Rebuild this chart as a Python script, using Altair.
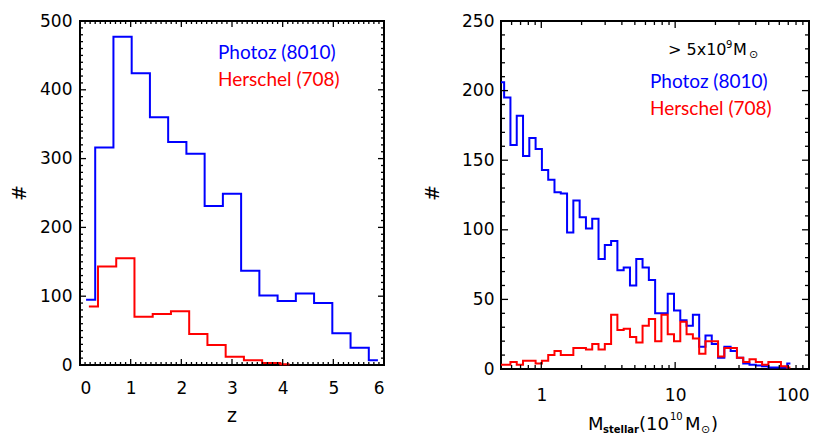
import altair as alt
import pandas as pd

# ---------------- data ----------------
# Left panel: redshift histograms (bin centres, counts)
z_blue = [0.12, 0.48, 0.84, 1.20, 1.56, 1.92, 2.28, 2.64, 3.00, 3.36, 3.72, 4.08,
          4.44, 4.80, 5.16, 5.52, 5.88]
n_blue_z = [95, 316, 477, 424, 360, 324, 307, 231, 249, 137, 101, 93, 104, 90, 46, 25, 7]

z_red = [0.175, 0.535, 0.895, 1.255, 1.615, 1.975, 2.335, 2.695, 3.055, 3.415, 3.775, 4.135]
n_red_z = [85, 143, 155, 70, 74, 78, 45, 29, 12, 7, 3, 1]

# Right panel: stellar-mass histograms (bin centres in 1e10 Msun, counts)
mass_centres = [0.500, 0.557, 0.621, 0.692, 0.771, 0.859, 0.957, 1.067, 1.189, 1.324,
                1.476, 1.644, 1.832, 2.042, 2.275, 2.535, 2.825, 3.148, 3.508, 3.908,
                4.355, 4.853, 5.408, 6.026, 6.714, 7.482, 8.337, 9.290, 10.35, 11.53,
                12.85, 14.32, 15.96, 17.78, 19.82, 22.08, 24.60, 27.42, 30.55, 34.04,
                37.93, 42.27, 47.10, 52.48, 58.48, 65.16, 72.61]
n_blue_m = [206, 195, 161, 182, 153, 166, 158, 143, 136, 127, 126, 98, 121, 109, 101, 108,
            79, 89, 92, 71, 73, 60, 79, 73, 64, 40, 40, 54, 42, 35, 31, 39, 16, 24, 18,
            8, 16, 13, 8, 4, 3, 2.5, 2, 1, 1, 1, 4]
n_red_m = [3, 3, 5, 3, 6, 6, 4, 6, 10, 13, 10, 10, 15, 15, 14, 18, 14, 18, 39, 28, 29, 23,
           19, 31, 36, 20, 39, 25, 20, 34, 25, 22, 11, 20, 20, 9, 15, 15, 8, 5, 7, 5, 3,
           5, 5, 2, 1]

# tick values
left_x_major = [0, 1, 2, 3, 4, 5, 6]
left_y_major = [0, 100, 200, 300, 400, 500]
right_x_major = [1, 10, 100]
right_y_major = [0, 50, 100, 150, 200, 250]

# texts
legend_labels = ["Photoz (8010)", "Herschel (708)"]
left_xtitle = "z"
ytitle = "#"
cut_text = ["> 5x10", "9", "M", "\u2299"]
mass_title = ["M", "stellar", "(10", "10", "M", "\u2299", ")"]

BLUE = "#0000ff"
RED = "#ff0000"
AXF = "DejaVu Sans"
LEGF = "Lato"

left_x_minor = [round(i * 0.1, 2) for i in range(0, 61) if i % 10 != 0]
left_y_minor = [i * 10 for i in range(0, 51) if i % 10 != 0]
right_x_minor = [0.6, 0.7, 0.8, 0.9] + list(range(2, 10)) + list(range(20, 100, 10))
right_y_minor = [i * 10 for i in range(0, 26) if i % 5 != 0]


def text_piece(s, x, y, size, color="black", font=AXF, weight="normal", align="left", angle=0):
    return alt.Chart(pd.DataFrame({"t": [s]})).mark_text(
        align=align, baseline="middle", font=font, fontSize=size, color=color,
        fontWeight=weight, angle=angle
    ).encode(x=alt.value(x), y=alt.value(y), text="t:N")


def tick_layers(xenc, yenc, xmaj, xmin, ymaj, ymin, W, H, Lmaj, Lmin):
    layers = []
    for vals, L in ((xmaj, Lmaj), (xmin, Lmin)):
        df = pd.DataFrame({"x": vals})
        layers.append(alt.Chart(df).mark_rule(color="black", strokeWidth=1.3).encode(
            x=xenc, y=alt.value(H), y2=alt.value(H - L)))
        layers.append(alt.Chart(df).mark_rule(color="black", strokeWidth=1.3).encode(
            x=xenc, y=alt.value(0), y2=alt.value(L)))
    for vals, L in ((ymaj, Lmaj), (ymin, Lmin)):
        df = pd.DataFrame({"y": vals})
        layers.append(alt.Chart(df).mark_rule(color="black", strokeWidth=1.3).encode(
            y=yenc, x=alt.value(0), x2=alt.value(L)))
        layers.append(alt.Chart(df).mark_rule(color="black", strokeWidth=1.3).encode(
            y=yenc, x=alt.value(W), x2=alt.value(W - L)))
    return layers


AX = dict(ticks=False, domain=False, grid=False, labelFont=AXF, labelFontSize=17,
          labelColor="black", title="", format="d")

# ---------------- left panel ----------------
W1, H1 = 304, 344
xl = alt.X("x:Q", scale=alt.Scale(domain=[0, 6], nice=False, zero=False),
           axis=alt.Axis(values=left_x_major, labelPadding=15, **AX))
yl = alt.Y("y:Q", scale=alt.Scale(domain=[0, 500], nice=False, zero=False),
           axis=alt.Axis(values=left_y_major, labelPadding=8, **AX))

df_bz = pd.DataFrame({"x": z_blue, "y": n_blue_z})
df_rz = pd.DataFrame({"x": z_red, "y": n_red_z})

left_layers = [
    alt.Chart(df_bz).mark_line(interpolate="step", color=BLUE, strokeWidth=2).encode(x=xl, y=yl),
    alt.Chart(df_rz).mark_line(interpolate="step", color=RED, strokeWidth=2).encode(x=xl, y=yl),
]
left_layers += tick_layers(xl, yl, left_x_major, left_x_minor, left_y_major, left_y_minor,
                           W1, H1, 6, 3)
left_layers += [
    text_piece(legend_labels[0], 138, 32, 19, BLUE, LEGF),
    text_piece(legend_labels[1], 138, 59, 19, RED, LEGF),
    text_piece(left_xtitle, W1 / 2, H1 + 51, 19, align="center"),
    text_piece(ytitle, -60, 172, 19, align="center", angle=270),
]
left = alt.layer(*left_layers).properties(width=W1, height=H1)

# ---------------- right panel ----------------
W2, H2 = 308, 348
xr = alt.X("x:Q", scale=alt.Scale(type="log", domain=[0.5, 100], nice=False),
           axis=alt.Axis(values=right_x_major, labelPadding=18, **AX))
yr = alt.Y("y:Q", scale=alt.Scale(domain=[0, 250], nice=False, zero=False),
           axis=alt.Axis(values=right_y_major, labelPadding=7, **AX))

df_bm = pd.DataFrame({"x": mass_centres, "y": n_blue_m})
df_rm = pd.DataFrame({"x": mass_centres, "y": n_red_m})

right_layers = [
    alt.Chart(df_bm).mark_line(interpolate="step", color=BLUE, strokeWidth=2).encode(x=xr, y=yr),
    alt.Chart(df_rm).mark_line(interpolate="step", color=RED, strokeWidth=2).encode(x=xr, y=yr),
]
right_layers += tick_layers(xr, yr, right_x_major, right_x_minor, right_y_major, right_y_minor,
                            W2, H2, 7, 4)
right_layers += [
    text_piece(cut_text[0], 167, 29, 16),
    text_piece(cut_text[1], 225, 24, 10),
    text_piece(cut_text[2], 232, 29, 16),
    text_piece(cut_text[3], 248, 34, 11),
    text_piece(legend_labels[0], 149, 61, 19, BLUE, LEGF),
    text_piece(legend_labels[1], 149, 88, 19, RED, LEGF),
    text_piece(ytitle, -68, 172, 19, align="center", angle=270),
    text_piece(mass_title[0], 87, H2 + 56, 18),
    text_piece(mass_title[1], 102, H2 + 61, 10, weight="bold"),
    text_piece(mass_title[2], 138, H2 + 56, 18),
    text_piece(mass_title[3], 169, H2 + 48, 10),
    text_piece(mass_title[4], 184, H2 + 56, 18),
    text_piece(mass_title[5], 200, H2 + 61, 11),
    text_piece(mass_title[6], 210, H2 + 56, 18),
]
right = alt.layer(*right_layers).properties(width=W2, height=H2)

chart = alt.hconcat(left, right, spacing=37).properties(
    padding={"left": 2, "top": 3, "right": 5, "bottom": 0},
    background="white",
).configure_view(
    stroke="black", strokeWidth=2
)

chart.save("out.html", embed_options={"renderer": "svg", "actions": False})
